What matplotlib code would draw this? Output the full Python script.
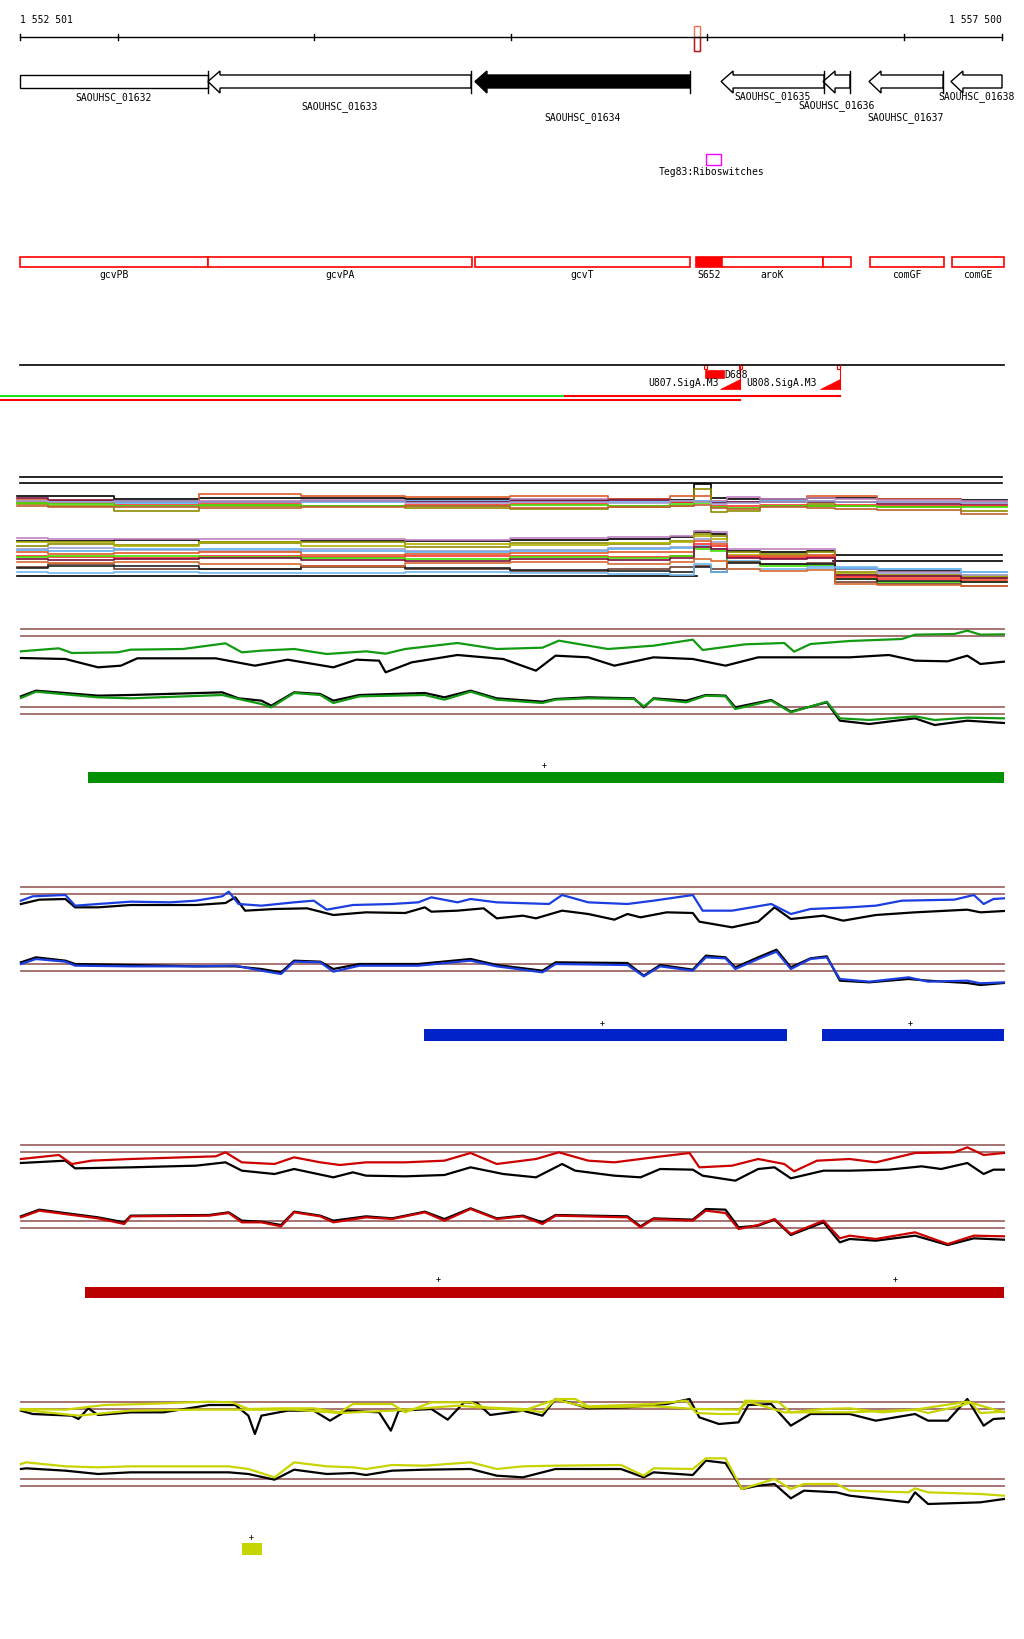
import matplotlib.pyplot as plt
from matplotlib.patches import Rectangle, Polygon

W, H = 1024, 1640
START, END = 1552501, 1557500
BP_PER_PX = (END - START) / 982          # window drawn from pixel 20 to 1002
PROBES_PER_PX = 1.53                     # probe index along the window
MONO = "DejaVu Sans Mono"

# --- annotation data (bp) ---------------------------------------------------
GENE_NAMES = ["SAOUHSC_01632", "SAOUHSC_01633", "SAOUHSC_01634", "SAOUHSC_01635",
              "SAOUHSC_01636", "SAOUHSC_01637", "SAOUHSC_01638"]
GENE_START = [1552180, 1553458, 1554817, 1556070, 1556589, 1556823, 1557240]
GENE_END = [1553458, 1554797, 1555912, 1556594, 1556726, 1557200, 1557720]
GENE_FILLED = [False, False, True, False, False, False, False]
GENE_LABEL_Y = [98, 107, 118, 97, 106, 118, 97]

FEAT_NAMES = ["gcvPB", "gcvPA", "gcvT", "S652", "aroK", "", "comGF", "comGE"]
FEAT_START = [1552300, 1553458, 1554817, 1555942, 1556075, 1556589, 1556828, 1557245]
FEAT_END = [1553458, 1554802, 1555912, 1556075, 1556589, 1556731, 1557205, 1557510]
FEAT_FILLED = [False, False, False, True, False, False, False, False]

RULER_TICKS = [1552501, 1553000, 1554000, 1555000, 1556000, 1557000, 1557500]

# --- multi-sample tracks (probe index, level) ------------------------------
MULTI_X = [26, 120, 230, 380, 540, 700, 860, 1000, 1050, 1075, 1100, 1125, 1200,
           1270, 1285, 1400, 1540]
UPPER = {
    "#000000": [82, 82, 90, 88, 86, 90, 92, 90, 92, 45, 88, 90, 90, 88, 88, 90, 92],
    "#e05a28": [92, 95, 100, 75, 80, 85, 82, 90, 80, 80, 95, 98, 95, 80, 82, 90, 100],
    "#8c8c00": [105, 110, 125, 112, 110, 118, 120, 115, 110, 60, 130, 125, 110, 105, 110, 115, 125],
    "#c080c0": [95, 98, 100, 95, 92, 95, 90, 92, 95, 95, 95, 85, 90, 88, 90, 92, 95],
    "#60b0f0": [100, 98, 102, 98, 100, 96, 100, 98, 100, 95, 100, 100, 96, 95, 98, 100, 102],
    "#7b1040": [88, 92, 96, 100, 95, 100, 96, 94, 98, 100, 102, 100, 98, 98, 100, 104, 108],
    "#ff3030": [98, 102, 108, 105, 110, 108, 105, 110, 100, 98, 110, 112, 108, 110, 108, 112, 110],
    "#40e000": [103, 106, 110, 108, 112, 110, 108, 112, 105, 102, 115, 118, 112, 112, 110, 115, 115],
    "#c06030": [110, 115, 115, 118, 115, 112, 118, 115, 112, 108, 118, 120, 115, 118, 120, 122, 135],
    "#a0a0d0": [96, 100, 97, 100, 97, 102, 99, 101, 97, 100, 105, 103, 100, 97, 100, 99, 102],
}
LOWER = {
    "#000000": [215, 215, 212, 218, 215, 215, 212, 210, 205, 190, 195, 245, 248, 245, 300, 305, 320],
    "#c080c0": [208, 210, 210, 210, 210, 212, 208, 205, 200, 185, 190, 240, 240, 240, 298, 310, 318],
    "#8c8c00": [230, 225, 228, 222, 220, 235, 222, 225, 215, 195, 200, 250, 255, 250, 310, 318, 325],
    "#b0b000": [220, 218, 230, 218, 230, 225, 228, 222, 220, 200, 210, 258, 262, 260, 315, 320, 322],
    "#a0a0d0": [240, 238, 242, 245, 240, 245, 242, 238, 235, 210, 220, 262, 268, 265, 300, 312, 318],
    "#60b0f0": [242, 245, 240, 240, 245, 248, 245, 240, 238, 230, 240, 275, 285, 290, 298, 300, 310],
    "#e05a28": [250, 255, 252, 250, 258, 255, 252, 250, 248, 215, 225, 260, 262, 258, 320, 325, 330],
    "#ff3030": [262, 265, 268, 262, 265, 260, 262, 265, 260, 225, 230, 265, 268, 265, 325, 330, 335],
    "#40e000": [265, 262, 262, 265, 268, 270, 265, 268, 262, 240, 245, 280, 290, 288, 330, 338, 340],
    "#7b1040": [270, 272, 270, 268, 272, 275, 270, 272, 268, 235, 240, 268, 270, 268, 318, 322, 328],
    "#704030": [295, 285, 300, 300, 295, 300, 305, 300, 295, 290, 300, 280, 285, 282, 340, 345, 350],
    "#202020": [298, 290, 290, 300, 292, 298, 302, 305, 310, 295, 310, 282, 285, 285, 330, 335, 340],
    "#70b8f0": [310, 312, 310, 312, 312, 310, 312, 315, 318, 285, 310, 300, 300, 298, 295, 300, 308],
    "#d86a30": [280, 282, 278, 285, 290, 282, 280, 285, 278, 270, 275, 300, 305, 302, 345, 348, 352],
}

# --- condition tracks (probe index, level) ---------------------------------
GREEN_UP_X = [32, 90, 110, 180, 200, 280, 345, 370, 400, 450, 500, 560, 590, 620, 700, 760, 830,
              855, 930, 1000, 1060, 1075, 1140, 1200, 1215, 1240, 1300, 1380, 1400, 1460, 1480,
              1500, 1536]
GREEN_UP = [97, 88, 102, 100, 92, 90, 73, 100, 95, 90, 105, 97, 104, 90, 72, 90, 86, 65, 90, 80,
            62, 93, 76, 72, 98, 75, 66, 60, 47, 45, 35, 47, 46]
GREEN_UPK_X = [32, 100, 150, 185, 210, 330, 390, 440, 510, 545, 580, 590, 630, 700, 770, 820, 850,
               900, 940, 1000, 1060, 1110, 1160, 1300, 1360, 1400, 1450, 1480, 1500, 1536]
GREEN_UPK = [117, 120, 145, 140, 118, 118, 140, 122, 145, 122, 125, 160, 130, 108, 120, 155, 110,
             115, 140, 115, 120, 140, 115, 115, 108, 125, 127, 110, 135, 128]
GREEN_LO_X = [32, 55, 150, 200, 340, 365, 400, 415, 450, 490, 510, 550, 650, 680, 720, 760, 830,
              850, 900, 970, 985, 1000, 1050, 1080, 1110, 1125, 1180, 1210, 1265, 1285, 1330,
              1400, 1430, 1480, 1536]
GREEN_LO = [237, 218, 235, 238, 228, 240, 255, 265, 222, 228, 252, 232, 228, 242, 218, 242, 252,
            242, 238, 240, 262, 240, 250, 230, 232, 270, 245, 280, 248, 298, 303, 292, 303, 296, 298]
GREEN_LOK = [232, 215, 230, 228, 220, 238, 245, 260, 220, 225, 245, 228, 222, 235, 215, 238, 248,
             240, 235, 238, 265, 238, 245, 228, 230, 265, 243, 278, 250, 305, 315, 298, 318, 305, 312]

BLUE_UP_X = [32, 50, 100, 115, 150, 200, 260, 300, 340, 350, 365, 400, 450, 480, 500, 540, 600,
             640, 660, 700, 720, 760, 840, 860, 900, 960, 1000, 1060, 1075, 1120, 1180, 1210,
             1240, 1300, 1340, 1380, 1460, 1490, 1505, 1520, 1536]
BLUE_UP = [65, 52, 48, 80, 75, 68, 70, 65, 52, 38, 75, 80, 70, 65, 92, 78, 75, 70, 55, 70, 60, 70,
           75, 48, 70, 75, 65, 48, 95, 95, 75, 105, 90, 85, 80, 65, 62, 48, 75, 60, 58]
BLUE_UPK_X = [32, 60, 100, 115, 150, 200, 300, 345, 360, 375, 420, 470, 510, 560, 620, 650, 660,
              700, 740, 760, 800, 820, 860, 900, 940, 960, 980, 1020, 1060, 1070, 1120, 1160,
              1185, 1210, 1260, 1290, 1340, 1400, 1480, 1500, 1536]
BLUE_UPK = [75, 62, 60, 85, 85, 78, 78, 72, 55, 95, 90, 88, 108, 100, 102, 85, 98, 95, 88, 118,
            110, 118, 95, 105, 122, 105, 115, 100, 102, 128, 145, 128, 85, 120, 110, 125, 108,
            100, 92, 100, 96]
BLUE_LO_X = [32, 55, 100, 115, 200, 300, 360, 400, 430, 450, 490, 510, 550, 640, 720, 760, 830,
             850, 960, 985, 1010, 1060, 1080, 1110, 1125, 1160, 1188, 1210, 1240, 1265, 1285,
             1330, 1390, 1420, 1480, 1500, 1536]
BLUE_LO = [255, 240, 248, 260, 262, 262, 260, 275, 285, 248, 250, 278, 260, 260, 245, 262, 280,
           255, 258, 292, 262, 275, 235, 238, 270, 240, 218, 270, 240, 235, 300, 308, 295, 308,
           305, 313, 310]
BLUE_LOK = [250, 235, 245, 255, 258, 262, 262, 270, 280, 245, 248, 270, 255, 255, 240, 258, 275,
            250, 252, 290, 258, 272, 230, 235, 265, 235, 212, 265, 238, 232, 305, 310, 300, 305,
            312, 318, 312]

RED_UP_X = [32, 90, 110, 140, 200, 280, 330, 345, 370, 420, 450, 490, 520, 560, 620, 680, 720,
            760, 820, 855, 900, 940, 1000, 1055, 1070, 1120, 1160, 1200, 1215, 1250, 1300, 1340,
            1400, 1460, 1480, 1505, 1536]
RED_UP = [60, 48, 75, 65, 60, 55, 52, 40, 70, 75, 55, 70, 78, 70, 70, 65, 42, 75, 60, 40, 65, 70,
          55, 42, 85, 80, 60, 75, 97, 65, 60, 70, 42, 40, 25, 48, 42]
RED_UPK_X = [32, 100, 115, 200, 300, 345, 370, 420, 450, 510, 540, 560, 620, 680, 720, 770, 820,
             860, 880, 940, 980, 1010, 1060, 1075, 1125, 1160, 1185, 1210, 1260, 1300, 1360,
             1410, 1440, 1480, 1505, 1520, 1536]
RED_UPK = [72, 65, 88, 85, 80, 70, 95, 105, 90, 115, 100, 110, 112, 108, 85, 105, 115, 75, 95,
           110, 115, 90, 92, 110, 125, 90, 85, 118, 95, 95, 92, 82, 90, 72, 105, 92, 92]
RED_LO_X = [32, 60, 150, 190, 200, 320, 350, 370, 400, 430, 450, 490, 510, 560, 600, 650, 680,
            720, 760, 800, 830, 850, 960, 980, 1000, 1060, 1080, 1110, 1130, 1160, 1185, 1210,
            1260, 1285, 1300, 1340, 1400, 1450, 1490, 1536]
RED_LO = [235, 215, 238, 255, 232, 230, 222, 250, 250, 262, 220, 232, 250, 235, 240, 220, 245,
          210, 240, 232, 255, 230, 235, 265, 240, 245, 215, 222, 270, 258, 240, 285, 245, 298,
          290, 300, 280, 315, 290, 292]
RED_LOK = [232, 212, 235, 250, 230, 228, 220, 245, 248, 258, 218, 230, 245, 232, 238, 218, 240,
           208, 238, 230, 250, 228, 232, 262, 238, 242, 210, 212, 265, 260, 242, 288, 250, 310,
           300, 305, 290, 318, 298, 302]

YEL_UP_X = [32, 100, 160, 220, 320, 355, 380, 430, 480, 520, 540, 600, 620, 660, 720, 740, 800,
            830, 850, 880, 900, 1000, 1050, 1065, 1100, 1130, 1140, 1190, 1210, 1260, 1300,
            1350, 1400, 1420, 1470, 1485, 1500, 1536]
YEL_UP = [60, 62, 48, 45, 38, 40, 60, 58, 58, 70, 45, 45, 70, 40, 40, 55, 60, 70, 30, 30, 52, 45,
          35, 72, 75, 75, 35, 38, 70, 60, 58, 70, 62, 72, 50, 40, 72, 68]
YEL_UP2_X = [32, 120, 200, 300, 380, 450, 520, 600, 700, 800, 850, 900, 1000, 1065, 1130, 1145,
             1200, 1300, 1400, 1480, 1536]
YEL_UP2 = [62, 80, 65, 62, 62, 62, 72, 65, 50, 65, 32, 55, 52, 60, 62, 38, 70, 70, 62, 38, 70]
YEL_UPK_X = [32, 50, 110, 120, 135, 150, 200, 250, 320, 360, 380, 390, 400, 440, 480, 505, 530,
             580, 598, 610, 660, 685, 710, 730, 750, 800, 830, 850, 870, 900, 960, 1020, 1055,
             1070, 1100, 1130, 1145, 1180, 1210, 1240, 1300, 1340, 1400, 1420, 1450, 1480, 1505,
             1520, 1536]
YEL_UPK = [65, 75, 80, 90, 58, 78, 70, 70, 48, 48, 80, 135, 80, 65, 65, 95, 65, 70, 125, 65, 60,
           92, 40, 42, 78, 65, 80, 30, 40, 58, 55, 45, 30, 85, 105, 100, 48, 45, 110, 75, 75, 95,
           75, 95, 95, 30, 110, 90, 88]
YEL_LO_X = [32, 40, 100, 150, 200, 350, 380, 420, 450, 500, 540, 560, 600, 650, 720, 760, 800,
            850, 950, 985, 1000, 1060, 1080, 1110, 1135, 1160, 1185, 1210, 1230, 1280, 1300,
            1390, 1400, 1420, 1500, 1536]
YEL_LO = [225, 220, 232, 235, 232, 232, 240, 265, 220, 232, 235, 240, 228, 230, 220, 240, 232,
          230, 228, 260, 238, 240, 208, 208, 300, 285, 270, 300, 285, 285, 305, 310, 298, 310,
          315, 320]
YEL_LOK = [240, 238, 245, 255, 250, 250, 255, 272, 242, 255, 252, 258, 245, 242, 240, 260, 265,
           240, 240, 265, 250, 258, 215, 222, 300, 290, 285, 328, 305, 310, 320, 340, 310, 345,
           340, 330]

# segments (probe index start, end) and strand marks
GREEN_SEG = [(135, 1536)]
GREEN_PLUS = [833]
BLUE_SEG = [(648, 1204), (1257, 1536)]
BLUE_PLUS = [922, 1393]
RED_SEG = [(130, 1536)]
RED_PLUS = [670, 1370]
YEL_SEG = [(371, 401)]
YEL_PLUS = [385]

fig = plt.figure(figsize=(W / 100, H / 100), dpi=100)
fig.patch.set_facecolor("white")

# ---------------------------------------------------------------------------
# annotation layer in bp / pixel rows
ax = fig.add_axes([0, 0, 1, 1])
ax.set_xlim(START - 20 * BP_PER_PX, START + (W - 20) * BP_PER_PX)
ax.set_ylim(H, 0)
ax.axis("off")
px = BP_PER_PX

# ruler
ax.plot([START, END], [38, 38], color="black", lw=1)
for t in RULER_TICKS:
    ax.plot([t, t], [35, 41], color="black", lw=1)
ax.text(START, 20, "1 552 501", family=MONO, fontsize=7, va="center", ha="left")
ax.text(END, 20, "1 557 500", family=MONO, fontsize=7, va="center", ha="right")
ax.add_patch(Rectangle((1555932, 27), 31, 25, fill=False, ec="#f07050", lw=1))
ax.add_patch(Rectangle((1555932, 38), 31, 14, fill=False, ec="#b02020", lw=1))

# genes (all on minus strand)
head = 12 * px
for name, s, e, filled, ly in zip(GENE_NAMES, GENE_START, GENE_END, GENE_FILLED, GENE_LABEL_Y):
    e2 = min(e, END)
    if s < START:
        pts = [(START, 76), (e2, 76), (e2, 89), (START, 89)]
    else:
        pts = [(s, 82.5), (s + head, 72), (s + head, 76), (e2, 76), (e2, 89),
               (s + head, 89), (s + head, 94)]
    ax.add_patch(Polygon(pts, closed=True, fc="black" if filled else "white",
                         ec="black", lw=1, zorder=3))
    if e < END:
        ax.plot([e, e], [72, 94], color="black", lw=1, zorder=4)
    ax.text((max(s, START) + e2) / 2, ly, name, family=MONO, fontsize=7,
            ha="center", va="center")

# riboswitch
ax.add_patch(Rectangle((1555993, 155), 77, 11, fill=False, ec="#ff00ff", lw=1))
ax.text(1556020, 172, "Teg83:Riboswitches", family=MONO, fontsize=7, ha="center", va="center")

# feature row
for name, s, e, filled in zip(FEAT_NAMES, FEAT_START, FEAT_END, FEAT_FILLED):
    s2, e2 = max(s, START), min(e, END + 10)
    ax.add_patch(Rectangle((s2, 258), e2 - s2, 10, fc="#ff0000" if filled else "white",
                           ec="#ff0000", lw=1.2))
    if name:
        ax.text((s2 + e2) / 2, 275, name, family=MONO, fontsize=7, ha="center", va="center")

# transcription units row
ax.plot([START, END + 10], [366, 366], color="black", lw=1.2)
for b in (1555983, 1556161, 1556660):
    ax.add_patch(Rectangle((b, 366), 3 * px, 4, fill=False, ec="#ff0000", lw=0.8))
ax.add_patch(Rectangle((1555986, 371), 99, 8, fc="#ff0000", ec="#ff0000", lw=0.5))
ax.text(1556088, 375.5, "D688", family=MONO, fontsize=7, ha="left", va="center")
ax.text(1556058, 383, "U807.SigA.M3", family=MONO, fontsize=7, ha="right", va="center")
ax.text(1556197, 383, "U808.SigA.M3", family=MONO, fontsize=7, ha="left", va="center")
for a, b in ((1556064, 1556166), (1556574, 1556675)):
    ax.add_patch(Polygon([(a, 390), (b, 390), (b, 380)], closed=True, fc="#ff0000", ec="#ff0000", lw=0.5))
    ax.plot([b, b], [366, 390], color="#ff0000", lw=0.8)
ax.plot([1552399, 1555275], [397, 397], color="#20e020", lw=1.5)
ax.plot([1555275, 1556675], [397, 397], color="#ff0000", lw=1.5)
ax.plot([1552399, 1556166], [401, 401], color="#ff0000", lw=1.5)


# ---------------------------------------------------------------------------
def panel(top, height):
    a = fig.add_axes([0, 1 - (top + height) / H, 1, height / H])
    a.set_xlim(0, W * PROBES_PER_PX)
    a.set_ylim(height * 3, 0)
    a.axis("off")
    a.patch.set_alpha(0)
    return a


# multi-sample overview
am = panel(470, 130)
for y in (25, 43):
    am.plot([31, 1533], [y, y], color="black", lw=1.2)
am.plot([26, 1066], [322, 322], color="black", lw=1.2)
for y in (257, 277):
    am.plot([1275, 1533], [y, y], color="black", lw=1.2)
for col, vals in UPPER.items():
    am.plot(MULTI_X, vals, color=col, lw=1.2, drawstyle="steps-mid")
for col, vals in LOWER.items():
    am.plot(MULTI_X, vals, color=col, lw=1.2, drawstyle="steps-mid")


def condition(top, height, col, barcol, refs, up, upk, lo, lok, segs, plus, plus_y, seg_y):
    a = panel(top, height)
    for r in refs:
        a.plot([32, 1536], [r, r], color="#a06868", lw=1.3)
    a.plot(*upk, color="black", lw=1.6)
    a.plot(*lok, color="black", lw=1.6)
    for u in up:
        a.plot(*u, color=col, lw=1.6)
    a.plot(*lo, color=col, lw=1.6)
    for s, e in segs:
        a.add_patch(Rectangle((s, seg_y[0]), e - s, seg_y[1] - seg_y[0], fc=barcol, ec="none"))
    for p in plus:
        a.text(p, plus_y, "+", family=MONO, fontsize=6, ha="center", va="center")


condition(620, 170, "#139a13", "#009000", [31, 52, 265, 286],
          [(GREEN_UP_X, GREEN_UP)], (GREEN_UPK_X, GREEN_UPK),
          (GREEN_LO_X, GREEN_LO), (GREEN_LO_X, GREEN_LOK),
          GREEN_SEG, GREEN_PLUS, 438, (458, 492))
condition(880, 170, "#1a3ee0", "#0022c8", [25, 46, 256, 277],
          [(BLUE_UP_X, BLUE_UP)], (BLUE_UPK_X, BLUE_UPK),
          (BLUE_LO_X, BLUE_LO), (BLUE_LO_X, BLUE_LOK),
          BLUE_SEG, BLUE_PLUS, 430, (450, 485))
condition(1140, 170, "#cc0000", "#bb0000", [17, 38, 247, 268],
          [(RED_UP_X, RED_UP)], (RED_UPK_X, RED_UPK),
          (RED_LO_X, RED_LO), (RED_LO_X, RED_LOK),
          RED_SEG, RED_PLUS, 420, (443, 477))
condition(1390, 180, "#c8d400", "#c6d400", [40, 61, 271, 292],
          [(YEL_UP_X, YEL_UP), (YEL_UP2_X, YEL_UP2)], (YEL_UPK_X, YEL_UPK),
          (YEL_LO_X, YEL_LO), (YEL_LO_X, YEL_LOK),
          YEL_SEG, YEL_PLUS, 442, (463, 497))

fig.savefig("out.png", dpi=100, facecolor="white")
